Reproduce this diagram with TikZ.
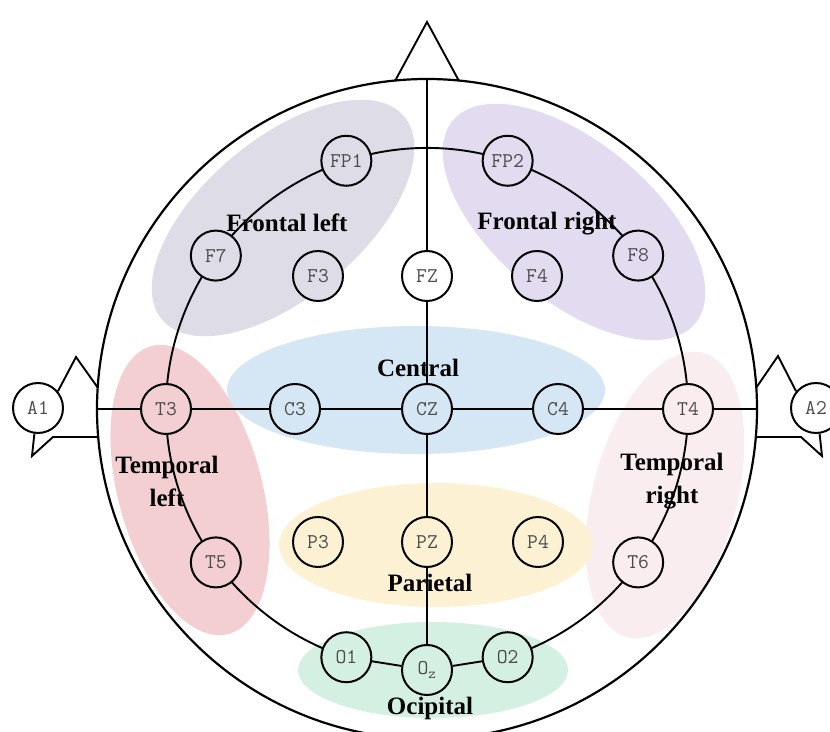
\documentclass[tikz,border=0pt]{standalone}
\usepackage{fontspec}
\setmainfont{Liberation Serif}
\definecolor{frontl}{HTML}{DEDCE7}
\definecolor{frontr}{HTML}{E3DBF0}
\definecolor{centr}{HTML}{D5E6F4}
\definecolor{templ}{HTML}{F3CFD1}
\definecolor{tempr}{HTML}{F9EDEF}
\definecolor{pariet}{HTML}{FCF2D3}
\definecolor{occip}{HTML}{D4F0E2}

\begin{document}
\begin{tikzpicture}[x=1pt,y=1pt,line width=1.9pt,
    electrode/.style={circle,draw,line width=2pt,minimum size=50pt,inner sep=0pt,fill=white,
      text=black!70,font=\ttfamily\fontsize{21}{21}\selectfont},
    lobe/.style={font=\bfseries\fontsize{25}{33}\selectfont,align=center}]
    \useasboundingbox (0,0) rectangle (830,731);
    \clip (0,0) rectangle (830,731);

    \fill[frontl,rotate around={40:(283,513)}] (283,513) ellipse [x radius=158,y radius=79];
    \fill[frontr,rotate around={-40:(574,509)}] (574,509) ellipse [x radius=158,y radius=79];
    \fill[templ,rotate around={15:(190,241)}] (190,241) ellipse [x radius=72,y radius=149];
    \fill[tempr,rotate around={-15:(665,236)}] (665,236) ellipse [x radius=72,y radius=147];
    \fill[centr] (416,341) ellipse [x radius=189,y radius=64];
    \fill[pariet] (436,186) ellipse [x radius=157,y radius=62];
    \fill[occip] (433,61) ellipse [x radius=135,y radius=48];

    \draw[line width=2.2pt] (427,322) circle [radius=330];
    \draw (395,650) -- (427,709) -- (459,650);
    \draw (427,322) ++(-72:261) arc [start angle=-72,end angle=252,radius=261];

    \coordinate (top) at (427,652);
    \coordinate (lft) at (97,322);
    \coordinate (rgt) at (757,322);

    \node[electrode,fill=frontl] (FP1) at ([shift={(427,322)}]108:261) {FP1};
    \node[electrode,fill=frontr] (FP2) at ([shift={(427,322)}]72:261) {FP2};
    \node[electrode,fill=frontl] (F7) at ([shift={(427,322)}]144:261) {F7};
    \node[electrode,fill=frontr] (F8) at ([shift={(427,322)}]36:261) {F8};
    \node[electrode,fill=frontl] (F3) at (318,455) {F3};
    \node[electrode] (FZ) at (427,455) {FZ};
    \node[electrode,fill=frontr] (F4) at (537,455) {F4};
    \node[electrode,fill=templ] (T3) at ([shift={(427,322)}]180:261) {T3};
    \node[electrode,fill=centr] (C3) at (295,322) {C3};
    \node[electrode,fill=centr] (CZ) at (427,322) {CZ};
    \node[electrode,fill=centr] (C4) at (558,322) {C4};
    \node[electrode,fill=tempr] (T4) at ([shift={(427,322)}]0:261) {T4};
    \node[electrode,fill=templ] (T5) at ([shift={(427,322)}]216:261) {T5};
    \node[electrode,fill=pariet] (P3) at (318,189) {P3};
    \node[electrode,fill=pariet] (PZ) at (427,189) {PZ};
    \node[electrode,fill=pariet] (P4) at (538,189) {P4};
    \node[electrode,fill=tempr] (T6) at ([shift={(427,322)}]324:261) {T6};
    \node[electrode,fill=occip] (O1) at ([shift={(427,322)}]252:261) {O1};
    \node[electrode,fill=occip] (OZ) at ([shift={(427,322)}]270:261) {O\textsubscript{z}};
    \node[electrode,fill=occip] (O2) at ([shift={(427,322)}]288:261) {O2};
    \node[electrode] (A1) at (38,323) {A1};
    \node[electrode] (A2) at (816,323) {A2};

    \draw (top) -- (FZ) -- (CZ) -- (PZ) -- (OZ);
    \draw (lft) -- (T3) -- (C3) -- (CZ) -- (C4) -- (T4) -- (rgt);
    \draw (O1) -- (OZ) -- (O2);

    \draw (98,343) -- (76,374) -- (A1.40);
    \draw (98,294) -- (53,294) -- (32,275) -- (A1.262);
    \draw (756,343) -- (778,375) -- (A2.140);
    \draw (756,294) -- (801,294) -- (822,275) -- (A2.278);

    \node[lobe] (frontal left) at (287,508) {Frontal left};
    \node[lobe] (frontal right) at (547,507) {Frontal right};
    \node[lobe] (central) at (418,363) {Central};
    \node[lobe] (temporal left) at (167,250) {Temporal\\left};
    \node[lobe] (temporal right) at (672,250) {Temporal\\right};
    \node[lobe] (parietal) at (430,148) {Parietal};
    \node[lobe] (occipital) at (430,23) {Ocipital};
\end{tikzpicture}
\end{document}
